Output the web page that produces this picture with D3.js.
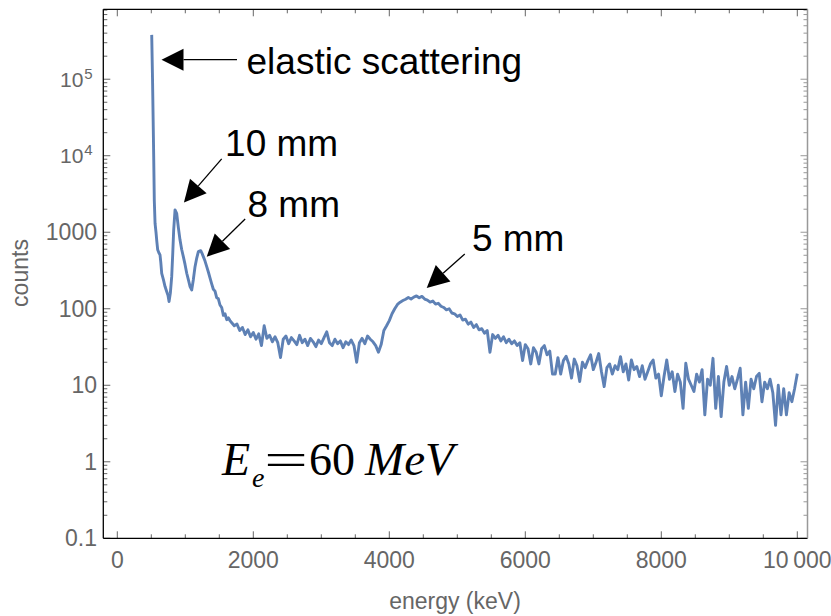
<!DOCTYPE html>
<html>
<head>
<meta charset="utf-8">
<script src="https://cdn.jsdelivr.net/npm/d3@7"></script>
<style>
  body { margin: 0; background: #fff; }
  svg { display: block; }
</style>
</head>
<body>
<svg id="chart" width="831" height="616"></svg>
<script>
// spectrum head: elastic peak and the 10 mm / 8 mm lines (energy keV, counts)
const headEnergy = [506, 518, 535, 544, 555, 569, 581, 594, 611, 628, 640, 653, 678, 702, 726, 745, 761, 780,
  800, 815, 829, 849, 873, 898, 922, 946, 971, 996, 1021, 1045, 1070, 1094, 1118, 1143, 1168, 1192, 1227,
  1246, 1265, 1290, 1315, 1340, 1364, 1388, 1412, 1437, 1461, 1486, 1510, 1535, 1560, 1584, 1609, 1633, 1658];
const headCounts = [380000, 100000, 10000, 2600, 1310, 1000, 760, 590, 540, 505, 400, 291, 240, 195, 168, 150, 124, 160,
  263, 520, 1070, 1960, 1770, 1150, 795, 600, 480, 380, 291, 240, 195, 176, 240, 355, 460, 557, 575,
  530, 480, 420, 355, 300, 251, 212, 180, 170, 140, 135, 112, 104, 82, 86, 72, 76, 70];

// rest of the spectrum, 40 keV channels from 1680 keV
const channelStart = 1680;
const channelWidth = 40;
const channelCounts = [
  66, 60, 63, 52, 57, 46, 53, 43, 49, 40,
  47, 33, 60, 41, 45, 37, 43, 36, 23, 40,
  44, 35, 42, 38, 34, 45, 36, 40, 33, 41,
  37, 32, 39, 35, 42, 50, 36, 33, 40, 35,
  38, 31, 37, 34, 39, 33, 20, 36, 41, 35,
  44, 40, 37, 33, 27, 34, 52, 60, 70, 86,
  100, 114, 122, 128, 133, 140, 134, 142, 147, 139,
  145, 134, 130, 122, 126, 115, 118, 108, 104, 97,
  100, 88, 86, 79, 83, 71, 73, 63, 67, 57,
  62, 53, 55, 48, 52, 27, 46, 41, 45, 38,
  43, 36, 40, 35, 38, 33, 36, 21, 34, 30,
  19, 31, 27, 19, 30, 33, 25, 28, 14, 14,
  23, 14, 21, 24, 19, 12.4, 22, 18, 11.2, 20,
  17, 21, 25, 16, 20, 26, 15, 9.6, 17, 19,
  14, 18, 16, 23.7, 15, 19, 11.7, 21.4, 16, 17.6,
  13, 18, 12, 15, 19, 21.4, 12.4, 14, 7.3, 13,
  21.4, 12, 15, 8.3, 14, 11, 5.0, 19.4, 12, 10,
  8.3, 14, 11, 16, 4.1, 12, 10, 22.5, 5.0, 13,
  3.9, 11, 17.6, 10, 13, 9, 12, 16.7, 4.1, 11,
  5.0, 12, 9, 13, 14.3, 6.1, 11, 9, 12, 8,
  3.0, 10, 4.1, 9, 4.1, 8, 6.1, 9, 14.2
];

const xMajorTicks = [0, 2000, 4000, 6000, 8000, 10000];
const xTickLabels = ["0", "2000", "4000", "6000", "8000", "10\u2009000"];
const yMajorTicks = [0.1, 1, 10, 100, 1000, 1e4, 1e5];
const yTickLabels = [["0.1"], ["1"], ["10"], ["100"], ["1000"], ["10", "4"], ["10", "5"]];

const annotations = [
  { label: "elastic scattering", tip: [650, 1.8e5], tail: [1760, 1.8e5], text: [1900, 1.17e5] },
  { label: "10 mm", tip: [980, 2440], tail: [1535, 9100], text: [1585, 9900] },
  { label: "8 mm", tip: [1315, 480], tail: [1880, 1490], text: [1915, 1590] },
  { label: "5 mm", tip: [4550, 187], tail: [5110, 520], text: [5215, 570] }
];

const spectrum = headEnergy.map((e, i) => [e, headCounts[i]])
  .concat(channelCounts.map((c, i) => [channelStart + i * channelWidth, c]));

const svg = d3.select("#chart");
const frame = { left: 103.3, right: 807.5, top: 9.3, bottom: 538.3 };

const x = d3.scaleLinear().domain([-206, 10150]).range([frame.left, frame.right]);
const y = d3.scaleLog().domain([0.1, 8.2e5]).range([frame.bottom, frame.top]);

svg.append("rect").attr("width", 831).attr("height", 616).attr("fill", "#fff");

svg.append("clipPath").attr("id", "plot-clip")
  .append("rect")
  .attr("x", frame.left).attr("y", frame.top)
  .attr("width", frame.right - frame.left).attr("height", frame.bottom - frame.top);

// minor ticks
const xMinorTicks = d3.range(0, 10001, 500).filter(v => v % 2000 !== 0);
const yMinorTicks = [];
for (let p = -1; p <= 5; p++) {
  for (let m = 2; m <= 9; m++) {
    const v = m * Math.pow(10, p);
    if (v <= 8.2e5) yMinorTicks.push(v);
  }
}

const tickColor = "#666";
const ticks = svg.append("g").attr("stroke-width", 1);

// bottom and top x ticks
[[frame.bottom, -1], [frame.top, 1]].forEach(([y0, dir]) => {
  ticks.selectAll(null).data(xMajorTicks).enter().append("line")
    .attr("x1", d => x(d)).attr("x2", d => x(d))
    .attr("y1", y0).attr("y2", y0 + dir * 7)
    .attr("stroke", tickColor);
  ticks.selectAll(null).data(xMinorTicks).enter().append("line")
    .attr("x1", d => x(d)).attr("x2", d => x(d))
    .attr("y1", y0).attr("y2", y0 + dir * 4)
    .attr("stroke", tickColor);
});

// left and right y ticks
[[frame.left, 1, tickColor], [frame.right, -1, "#999"]].forEach(([x0, dir, col]) => {
  ticks.selectAll(null).data(yMajorTicks).enter().append("line")
    .attr("x1", x0).attr("x2", x0 + dir * 7)
    .attr("y1", d => y(d)).attr("y2", d => y(d))
    .attr("stroke", col);
  ticks.selectAll(null).data(yMinorTicks).enter().append("line")
    .attr("x1", x0).attr("x2", x0 + dir * 4)
    .attr("y1", d => y(d)).attr("y2", d => y(d))
    .attr("stroke", col);
});

// frame
const frameLine = (x1, y1, x2, y2, col, w) => svg.append("line")
  .attr("x1", x1).attr("y1", y1).attr("x2", x2).attr("y2", y2)
  .attr("stroke", col).attr("stroke-width", w);
frameLine(frame.left, frame.bottom, frame.right, frame.bottom, "#000", 1.3);
frameLine(frame.left, frame.top, frame.left, frame.bottom, "#000", 1.3);
frameLine(frame.left, frame.top, frame.right, frame.top, "#000", 1.3);
frameLine(frame.right, frame.top, frame.right, frame.bottom, "#999", 1.5);

// tick labels
const labelFont = "'Liberation Sans', Arial, sans-serif";
svg.append("g").selectAll("text").data(xMajorTicks).enter().append("text")
  .attr("x", d => x(d)).attr("y", 568)
  .attr("text-anchor", "middle")
  .attr("font-family", labelFont).attr("font-size", 23).attr("fill", tickColor)
  .text((d, i) => xTickLabels[i]);

const yLab = svg.append("g").selectAll("text").data(yMajorTicks).enter().append("text")
  .attr("font-family", labelFont).attr("fill", tickColor);
yLab.each(function (d, i) {
  const t = d3.select(this);
  const lab = yTickLabels[i];
  if (lab.length === 1) {
    t.attr("x", 97).attr("y", y(d) + 8).attr("text-anchor", "end")
      .attr("font-size", 23).text(lab[0]);
  } else {
    t.attr("x", 60).attr("y", y(d) + 7.5).attr("font-size", 21);
    t.append("tspan").text(lab[0]);
    t.append("tspan").attr("font-size", 15).attr("dy", -8).attr("dx", 1).text(lab[1]);
  }
});

// axis titles
svg.append("text")
  .attr("x", 455).attr("y", 609)
  .attr("text-anchor", "middle")
  .attr("font-family", labelFont).attr("font-size", 23).attr("fill", tickColor)
  .text("energy (keV)");
svg.append("text")
  .attr("transform", "translate(28,273) rotate(-90)")
  .attr("text-anchor", "middle")
  .attr("font-family", labelFont).attr("font-size", 23).attr("fill", tickColor)
  .text("counts");

// spectrum line
const line = d3.line().x(d => x(d[0])).y(d => y(d[1]));
svg.append("path")
  .datum(spectrum)
  .attr("clip-path", "url(#plot-clip)")
  .attr("d", line)
  .attr("fill", "none")
  .attr("stroke", "#5E81B5")
  .attr("stroke-width", 2.9)
  .attr("stroke-linejoin", "round");

// annotations with arrows
const headLen = 22, headHalf = 11;
const ann = svg.append("g");
annotations.forEach(a => {
  const tx = x(a.tip[0]), ty = y(a.tip[1]);
  const sx = x(a.tail[0]), sy = y(a.tail[1]);
  const len = Math.hypot(tx - sx, ty - sy);
  const ux = (tx - sx) / len, uy = (ty - sy) / len;
  const bx = tx - ux * headLen, by = ty - uy * headLen;
  ann.append("line")
    .attr("x1", sx).attr("y1", sy).attr("x2", bx).attr("y2", by)
    .attr("stroke", "#000").attr("stroke-width", 1.3);
  ann.append("path")
    .attr("d", `M${tx},${ty}L${bx - uy * headHalf},${by + ux * headHalf}L${bx + uy * headHalf},${by - ux * headHalf}Z`)
    .attr("fill", "#000");
  ann.append("text")
    .attr("x", x(a.text[0])).attr("y", y(a.text[1]))
    .attr("font-family", labelFont).attr("font-size", 37).attr("fill", "#000")
    .text(a.label);
});

// beam energy label
const serif = "'Liberation Serif', 'Times New Roman', serif";
const eg = svg.append("g").attr("font-family", serif).attr("fill", "#000");
eg.append("text").attr("x", 222).attr("y", 475).attr("font-size", 46).attr("font-style", "italic").text("E");
eg.append("text").attr("x", 252).attr("y", 487).attr("font-size", 28).attr("font-style", "italic").text("e");
eg.append("text").attr("x", 264).attr("y", 475).attr("font-size", 46)
  .attr("textLength", 44).attr("lengthAdjust", "spacingAndGlyphs").text("=");
eg.append("text").attr("x", 309).attr("y", 475).attr("font-size", 46).text("60");
eg.append("text").attr("x", 365).attr("y", 475).attr("font-size", 47).attr("font-style", "italic").text("MeV");
</script>
</body>
</html>
